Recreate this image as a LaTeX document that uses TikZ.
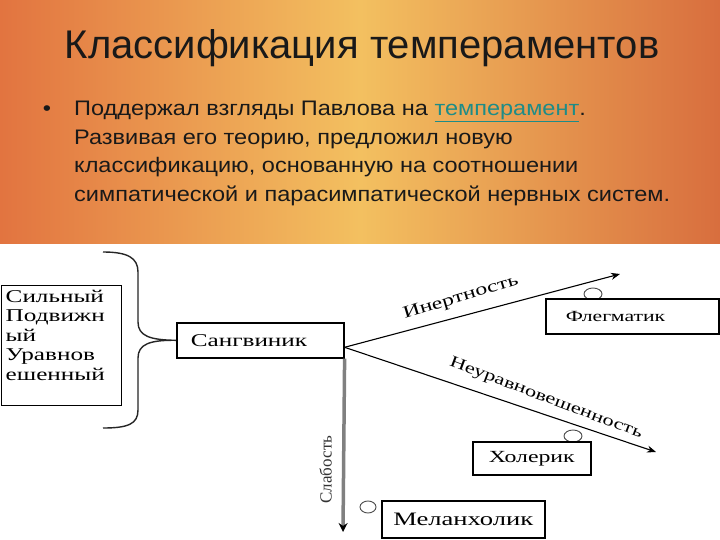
\documentclass[tikz,border=0pt]{standalone}
\usepackage{fontspec}
\setmainfont{Liberation Sans}
\newfontfamily\slidefont[FakeStretch=1.12]{Liberation Sans}
\newfontfamily\scanfont[FakeStretch=1.4]{Liberation Serif}
\newfontfamily\plainserif{Liberation Serif}
\usetikzlibrary{arrows.meta,positioning}
\tikzset{scanbox/.style={draw=black,line width=1.6pt,fill=white,anchor=north west,align=left,inner ysep=0pt},
  scantext/.style={font=\scanfont\fontsize{#1}{#1}\selectfont},
  axisline/.style={line width=1.1pt,-{Stealth[length=9pt,width=7pt]}},
  ring/.style={draw=black!70,line width=0.9pt}}

\begin{document}
\begin{tikzpicture}[x=1pt,y=-1pt]
            \colorlet{ink}{black!90}
            \definecolor{link}{RGB}{30,140,135}
            \definecolor{rimL}{RGB}{226,116,64}
            \definecolor{rimM}{RGB}{243,192,96}
            \definecolor{rimR}{RGB}{216,110,62}
            \useasboundingbox (0,0) rectangle (720,540);
            \shade [left color=rimL,right color=rimR,middle color=rimM] (0,0) rectangle (720,244);
            \fill [white] (0,244) rectangle (720,540);

            \node [font=\fontsize{40}{44}\selectfont,text=ink,anchor=base] (title) at (362,59) {Классификация темпераментов};
            \node [anchor=north west,align=left,inner sep=0pt,text=ink,font=\slidefont\fontsize{21}{28.5}\selectfont] (bullet) at (74,101)
                {\llap{•\hspace{23pt}}Поддержал взгляды Павлова на \textcolor{link}{\underline{темперамент}}.\\
                 Развивая его теорию, предложил новую\\
                 классификацию, основанную на соотношении\\
                 симпатической и парасимпатической нервных систем.};

            % circles beside the boxes
            \foreach \x/\y/\r in {593/294/9, 573/436/9, 368/507/8} {
                \draw [ring] (\x,\y) ellipse [x radius=\r,y radius=6];
            }

            \node [scanbox,inner sep=4pt,line width=1.4pt] (traits) at (1,285)
                {\parbox[t][112pt][t]{112pt}{\scanfont\fontsize{18}{19.5}\selectfont Сильный\\Подвижн\\ый\\Уравнов\\ешенный}};
            \node [scanbox,scantext=18,inner xsep=14pt,text width=139pt,minimum height=35pt] (sang) at (176,322) {Сангвиник};
            \node [scanbox,scantext=15.5,inner xsep=20pt,text width=133pt,minimum height=35pt] (phleg) at (545,298) {Флегматик};
            \node [scanbox,scantext=17,align=center,minimum width=118pt,minimum height=33pt] (chol) at (472,441) {Холерик};
            \node [scanbox,scantext=19,align=center,minimum width=163pt,minimum height=37pt] (melan) at (381,500) {Меланхолик};

            \coordinate (braceTop) at (103,252);
            \coordinate (braceBot) at (103,428);
            \coordinate (fork) at ([yshift=-7pt]sang.east);
            \coordinate (inertEnd) at (620,274);
            \coordinate (unbalEnd) at (656,452);
            \coordinate (weakEnd) at (343,532);

            \draw [black!85,line width=1.4pt] (braceTop) .. controls (128,252) and (138,258) .. (138,272) -- (138,322)
                .. controls (138,336) and (150,340) .. (sang.west)
                .. controls (150,340) and (138,344) .. (138,358) -- (138,410)
                .. controls (138,424) and (128,428) .. (braceBot);

            \draw [gray,line width=3.5pt,-{Stealth[length=9pt,width=9pt,color=black]}] (sang.south east) -- (weakEnd)
                node [pos=0.64,rotate=90,anchor=south,inner xsep=0pt,inner ysep=10pt,text=black!80,font=\plainserif\fontsize{17}{17}\selectfont] (weakLbl) {Слабость};
            \draw [axisline] (fork) -- (inertEnd)
                node [pos=0.44,sloped,above=10pt,rotate=2,scantext=17,inner sep=0pt] (inertLbl) {Инертность};
            \draw [axisline] (fork) -- (unbalEnd)
                node [pos=0.63,sloped,above=8pt,rotate=-2,scantext=16,inner sep=0pt] (unbalLbl) {Неуравновешенность};
        \end{tikzpicture}
\end{document}
